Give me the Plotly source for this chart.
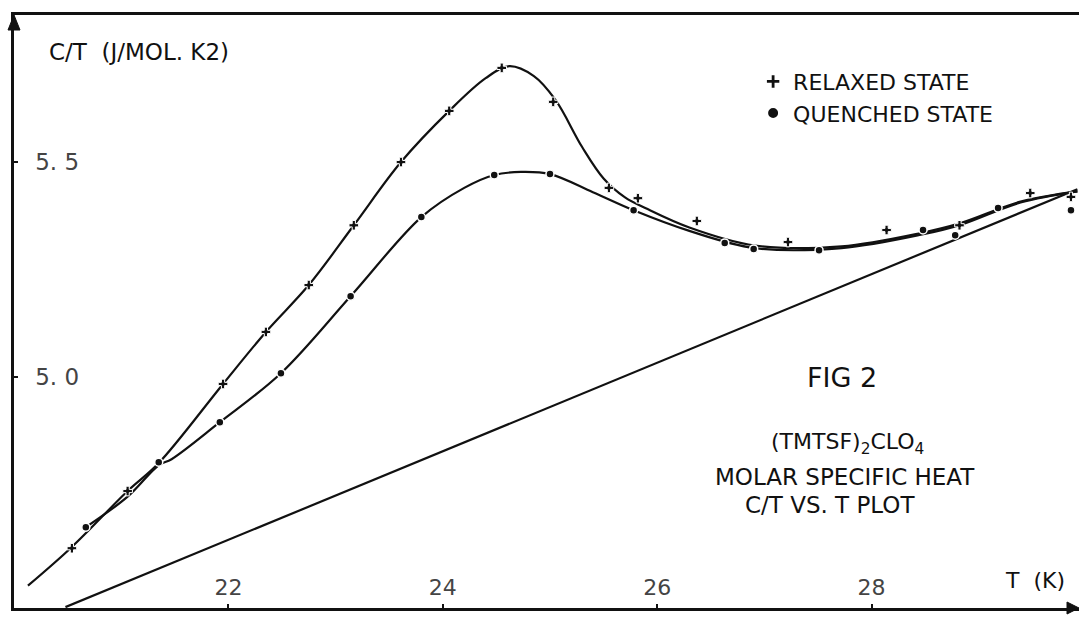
import plotly.graph_objects as go

# ---- data ----
relaxed_T = [20.54, 21.06, 21.95, 22.35, 22.75, 23.17, 23.61, 24.06, 24.55, 25.03,
             25.55, 25.82, 26.37, 27.22, 28.14, 28.82, 29.48, 29.86]
relaxed_C = [4.602, 4.735, 4.984, 5.105, 5.214, 5.353, 5.500, 5.619, 5.719, 5.640,
             5.440, 5.416, 5.363, 5.314, 5.342, 5.353, 5.428, 5.419]

quenched_T = [20.67, 21.35, 21.92, 22.49, 23.14, 23.80, 24.48, 25.00, 25.78, 26.63,
              26.90, 27.51, 28.48, 28.78, 29.18, 29.86]
quenched_C = [4.651, 4.802, 4.895, 5.009, 5.188, 5.372, 5.470, 5.472, 5.388, 5.312,
              5.298, 5.295, 5.342, 5.330, 5.393, 5.388]

# fitted curves drawn through the data
relaxed_fit_T = [20.13, 20.54, 21.06, 21.35, 21.95, 22.35, 22.75, 23.17, 23.61, 24.06,
                 24.40, 24.62, 24.85, 25.05, 25.30, 25.50, 25.70, 25.90, 26.30, 26.91,
                 27.72, 28.46, 28.83, 29.39, 29.92]
relaxed_fit_C = [4.515, 4.605, 4.735, 4.800, 4.984, 5.105, 5.214, 5.353, 5.500, 5.619,
                 5.695, 5.723, 5.700, 5.645, 5.535, 5.462, 5.418, 5.392, 5.348, 5.306,
                 5.304, 5.335, 5.358, 5.408, 5.432]

quenched_fit_T = [20.67, 21.06, 21.35, 21.47, 21.92, 22.49, 23.14, 23.80, 24.20, 24.48,
                  24.73, 25.00, 25.40, 25.78, 26.30, 26.91, 27.72, 28.46, 28.83, 29.39,
                  29.92]
quenched_fit_C = [4.651, 4.722, 4.795, 4.809, 4.895, 5.009, 5.188, 5.372, 5.440, 5.470,
                  5.477, 5.472, 5.430, 5.388, 5.340, 5.300, 5.300, 5.331, 5.354, 5.406,
                  5.432]

lattice_T = [20.48, 29.92]
lattice_C = [4.465, 5.437]

x_ticks = [22, 24, 26, 28]
y_ticks = [5.0, 5.5]
y_ticktext = ["5. 0", "5. 5"]
y_minor_ticks = [4.5]

FONT = "DejaVu Sans"
INK = "#111111"

fig = go.Figure()

fig.add_trace(go.Scatter(x=lattice_T, y=lattice_C, mode="lines",
                         line=dict(color=INK, width=2.2), showlegend=False,
                         hoverinfo="skip"))
fig.add_trace(go.Scatter(x=relaxed_fit_T, y=relaxed_fit_C, mode="lines",
                         line=dict(color=INK, width=2.2, shape="spline", smoothing=1.0),
                         showlegend=False, hoverinfo="skip"))
fig.add_trace(go.Scatter(x=quenched_fit_T, y=quenched_fit_C, mode="lines",
                         line=dict(color=INK, width=2.2, shape="spline", smoothing=1.0),
                         showlegend=False, hoverinfo="skip"))
fig.add_trace(go.Scatter(x=relaxed_T, y=relaxed_C, mode="markers", name="RELAXED STATE",
                         marker=dict(symbol="cross", size=8, color=INK,
                                     line=dict(color="white", width=1))))
fig.add_trace(go.Scatter(x=quenched_T, y=quenched_C, mode="markers", name="QUENCHED STATE",
                         marker=dict(symbol="circle", size=8, color=INK,
                                     line=dict(color="white", width=1.5))))

ann_font = dict(family=FONT, color=INK)
annotations = [
    dict(text="C/T  (J/MOL. K2)", x=0.031, y=0.9376, xanchor="left", yanchor="middle",
         font=dict(size=23, **ann_font)),
    dict(text="FIG 2", x=0.7775, y=0.3895, xanchor="center", yanchor="middle",
         font=dict(size=27, **ann_font)),
    dict(text="(TMTSF)<sub>2</sub>CLO<sub>4</sub>", x=0.783, y=0.277, xanchor="center",
         yanchor="middle", font=dict(size=22, **ann_font)),
    dict(text="MOLAR SPECIFIC HEAT", x=0.780, y=0.221, xanchor="center", yanchor="middle",
         font=dict(size=23, **ann_font)),
    dict(text="C/T VS. T PLOT", x=0.766, y=0.174, xanchor="center", yanchor="middle",
         font=dict(size=23, **ann_font)),
    dict(text="T  (K)", x=0.9587, y=0.047, xanchor="center", yanchor="middle",
         font=dict(size=22, **ann_font)),
]
for a in annotations:
    a.setdefault("xref", "paper")
    a.setdefault("yref", "paper")
    a.setdefault("showarrow", False)

# axis arrowheads (pixel-sized triangles anchored to the axis ends)
shapes = [
    dict(type="path", xref="paper", yref="paper", xsizemode="pixel", ysizemode="pixel",
         xanchor=0, yanchor=1, path="M -6 -15 L 6 -15 L 0 0 Z",
         fillcolor=INK, line=dict(color=INK, width=1)),
    dict(type="path", xref="paper", yref="paper", xsizemode="pixel", ysizemode="pixel",
         xanchor=1, yanchor=0, path="M -12 6 L -12 -6 L 0 0 Z",
         fillcolor=INK, line=dict(color=INK, width=1)),
]

fig.update_layout(
    width=1079, height=619,
    margin=dict(l=14, r=0, t=15, b=11),
    paper_bgcolor="white", plot_bgcolor="white",
    font=dict(family=FONT, color=INK, size=19),
    annotations=annotations,
    shapes=shapes,
    legend=dict(x=0.694, y=0.923, xanchor="left", yanchor="top",
                bgcolor="rgba(0,0,0,0)", font=dict(size=22, family=FONT, color=INK),
                itemsizing="constant", tracegroupgap=2),
    xaxis=dict(range=[20.0, 29.935], showline=True, linecolor=INK, linewidth=2.5,
               mirror=True, ticks="inside", ticklen=4, tickwidth=2, tickcolor=INK,
               tickvals=x_ticks, ticklabelposition="inside", ticklabelstandoff=6,
               showgrid=False, zeroline=False, tickfont=dict(size=22, family=FONT)),
    yaxis=dict(range=[4.463, 5.842], showline=True, linecolor=INK, linewidth=2.5,
               ticks="inside", ticklen=4, tickwidth=2, tickcolor=INK,
               tickvals=y_ticks, ticktext=y_ticktext, ticklabelposition="inside",
               ticklabelstandoff=19, showgrid=False, zeroline=False,
               minor=dict(tickvals=y_minor_ticks, ticks="inside", ticklen=4,
                          tickwidth=2, tickcolor=INK),
               tickfont=dict(size=23, family=FONT)),
)

fig.write_html("out.html", config={"displayModeBar": False},
               post_script="document.body.style.margin='0';document.body.style.overflow='hidden';")
